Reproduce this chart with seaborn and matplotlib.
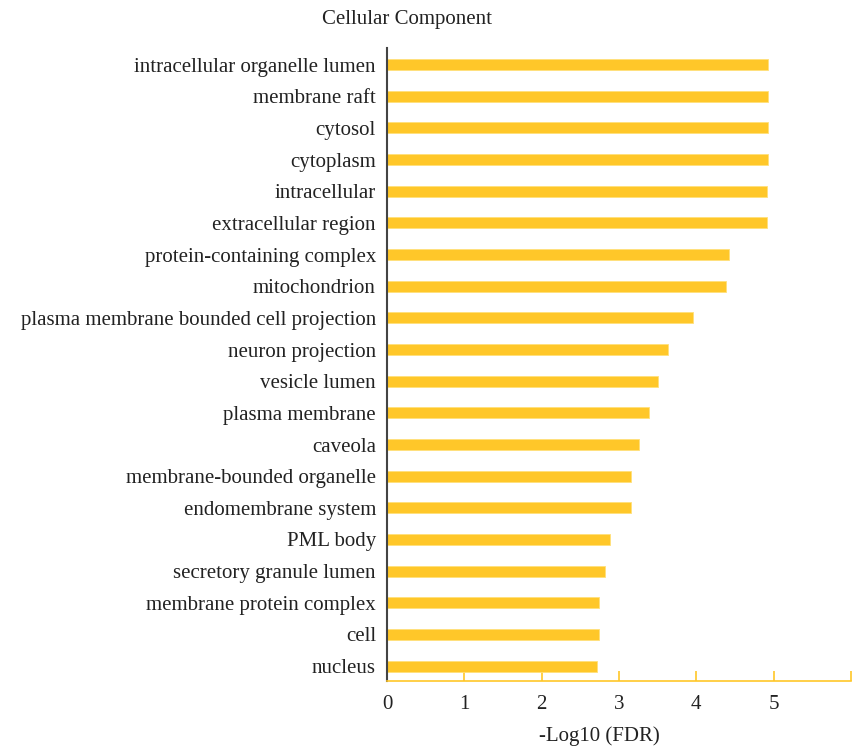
import seaborn as sns
import matplotlib.pyplot as plt
import pandas as pd

terms = [
    "intracellular organelle lumen",
    "membrane raft",
    "cytosol",
    "cytoplasm",
    "intracellular",
    "extracellular region",
    "protein-containing complex",
    "mitochondrion",
    "plasma membrane bounded cell projection",
    "neuron projection",
    "vesicle lumen",
    "plasma membrane",
    "caveola",
    "membrane-bounded organelle",
    "endomembrane system",
    "PML body",
    "secretory granule lumen",
    "membrane protein complex",
    "cell",
    "nucleus",
]
log_fdr = [4.93, 4.93, 4.93, 4.93, 4.92, 4.92, 4.42, 4.39, 3.96, 3.63,
           3.51, 3.39, 3.26, 3.15, 3.15, 2.88, 2.82, 2.74, 2.74, 2.72]
x_ticks = [0, 1, 2, 3, 4, 5, 6]
x_tick_labels = ["0", "1", "2", "3", "4", "5", ""]

df = pd.DataFrame({"term": terms, "value": log_fdr})

sns.set_style("white")
plt.rcParams["font.family"] = ["Liberation Serif", "DejaVu Serif"]

fs = 15

fig = plt.figure(figsize=(8.6, 7.48), dpi=100)
ax = fig.add_axes([0.45, 0.0896, 0.5395, 0.846])

sns.barplot(data=df, x="value", y="term", orient="h", color="#FFC729",
            width=0.35, edgecolor="#FFE07A", linewidth=0.6, saturation=1, ax=ax)

ax.set_xlim(0, 6)
ax.set_ylim(19.47, -0.52)
ax.set_xticks(x_ticks)
ax.set_xticklabels(x_tick_labels, fontsize=fs, color="#222222")
ax.tick_params(axis="x", bottom=True, direction="in", length=7, width=1.2,
               color="#FFC729", pad=10)
ax.tick_params(axis="y", left=False, length=0, pad=8, labelsize=fs, labelcolor="#222222")

sns.despine(ax=ax, top=True, right=True)
ax.spines["left"].set_color("#444444")
ax.spines["left"].set_linewidth(1.5)
ax.spines["bottom"].set_color("#FFC729")
ax.spines["bottom"].set_linewidth(1.2)

ax.set_ylabel("")
ax.set_xlabel("-Log10 (FDR)", fontsize=fs, color="#222222")
ax.xaxis.set_label_coords(0.457, -0.071)
fig.text(0.473, 0.974, "Cellular Component", ha="center", va="center",
         fontsize=fs, color="#222222")

fig.savefig("out.png", dpi=100)
